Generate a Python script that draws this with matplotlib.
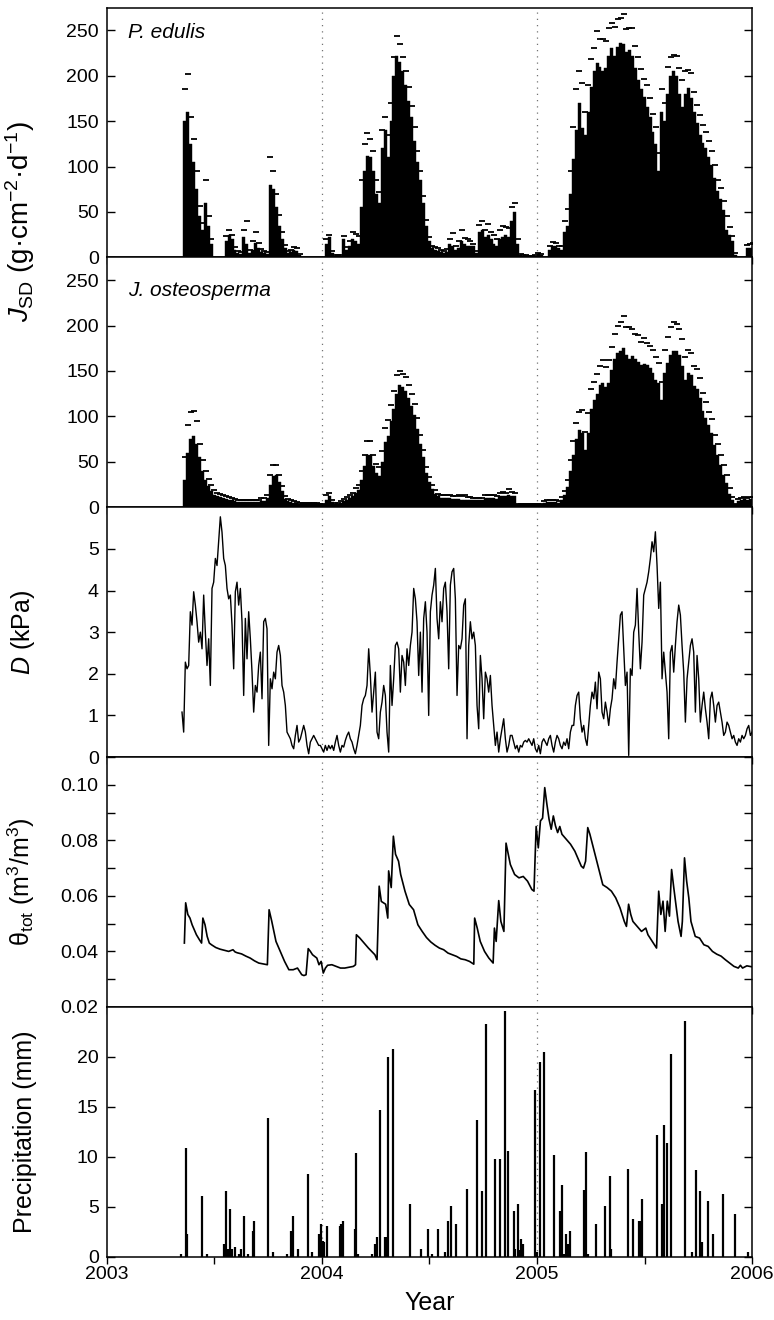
import numpy as np
import matplotlib
matplotlib.use('Agg')
import matplotlib.pyplot as plt
from matplotlib.ticker import MultipleLocator, FormatStrFormatter

plt.rcParams['font.family'] = ['Liberation Sans', 'DejaVu Sans']
plt.rcParams['mathtext.fontset'] = 'custom'
plt.rcParams['mathtext.rm'] = 'Liberation Sans'
plt.rcParams['mathtext.it'] = 'Liberation Sans:italic'
plt.rcParams['mathtext.bf'] = 'Liberation Sans:bold'

# sap flux, 5-day bins starting on day 130 of 2003
SAP_DAY0 = 130
SAP_STEP = 5

pe_flux = [150, 160, 125, 105, 75, 45, 30, 60, 35, 15,
           0, 0, 0, 0, 18, 25, 20, 8, 5, 4,
           22, 15, 5, 8, 16, 10, 6, 5, 4, 80,
           75, 55, 35, 20, 10, 5, 6, 8, 7, 3,
           0, 0, 0, 0, 0, 0, 0, 0, 15, 22,
           5, 2, 2, 2, 20, 8, 12, 20, 18, 15,
           55, 95, 112, 110, 95, 70, 60, 120, 140, 110,
           150, 200, 222, 215, 205, 190, 172, 155, 128, 105,
           85, 60, 35, 18, 10, 8, 7, 6, 5, 6,
           15, 12, 8, 10, 18, 15, 12,
           13, 12, 5, 28, 30, 22, 25, 20, 15, 12,
           20, 22, 25, 22, 40, 50, 15, 3, 2, 2,
           1, 1, 2, 4, 3, 0, 0, 8, 12, 12,
           10, 8, 28, 35, 70, 108, 140, 170, 142, 135,
           160, 188, 205, 214, 210, 205, 208, 222, 230, 222,
           232, 236, 235, 226, 228, 222, 208, 195, 185, 176,
           165, 155, 138, 125, 95, 160, 150, 180, 200, 205,
           200, 180, 165, 180, 186, 175, 160, 148, 135, 126,
           120, 110, 102, 87, 73, 64, 52, 30, 25, 18,
           3, 0, 0, 0, 10, 10, 12]

pe_err = [35, 42, 30, 25, 20, 12, 8, 25, 10, 5,
          0, 0, 0, 0, 6, 5, 5, 3, 2, 2,
          8, 25, 3, 10, 12, 6, 3, 2, 2, 30,
          20, 15, 12, 8, 4, 2, 2, 3, 3, 1,
          0, 0, 0, 0, 0, 0, 0, 0, 5, 3,
          2, 1, 1, 1, 3, 3, 6, 8, 8, 8,
          30, 30, 25, 20, 22, 15, 12, 20, 15, 25,
          20, 20, 22, 20, 15, 15, 15, 12, 15, 12,
          10, 8, 6, 4, 3, 3, 3, 2, 2, 3,
          5, 15, 4, 8, 12, 6, 8,
          5, 3, 2, 8, 10, 8, 12, 8, 10, 8,
          10, 12, 8, 10, 15, 10, 5, 1, 1, 1,
          1, 1, 1, 1, 1, 0, 0, 4, 5, 4,
          3, 5, 12, 18, 25, 35, 45, 35, 50, 25,
          30, 30, 25, 35, 30, 35, 30, 30, 28, 32,
          30, 28, 33, 25, 25, 30, 25, 25, 22, 20,
          25, 20, 20, 18, 20, 25, 20, 30, 20, 18,
          22, 28, 30, 25, 20, 28, 22, 20, 22, 20,
          18, 18, 15, 15, 12, 12, 10, 15, 8, 6,
          2, 0, 0, 0, 4, 5, 4]

jo_flux = [30, 60, 75, 78, 70, 55, 40, 30, 23, 18,
           14, 12, 11, 10, 9, 8, 8, 7, 6, 6,
           6, 6, 6, 6, 6, 6, 7, 7, 10, 25,
           34, 36, 28, 18, 9, 7, 6, 5, 5, 4,
           4, 4, 4, 4, 4, 4, 3, 3, 8, 12,
           6, 4, 4, 5, 7, 8, 10, 12, 16, 19,
           30, 45, 58, 58, 45, 38, 34, 50, 72, 78,
           95, 108, 125, 135, 132, 128, 120, 111, 102, 86,
           70, 55, 38, 28, 20, 15, 12, 10, 10, 10,
           10, 9, 9, 9, 8, 8, 8,
           8, 8, 8, 8, 8, 10, 10, 10, 10, 9,
           12, 12, 12, 14, 12, 12, 3, 3, 3, 3,
           3, 3, 3, 3, 3, 5, 6, 6, 6, 6,
           5, 8, 13, 22, 40, 58, 75, 85, 82, 63,
           82, 108, 118, 125, 135, 137, 132, 137, 151, 163,
           170, 172, 175, 168, 163, 166, 163, 160, 157, 158,
           156, 153, 148, 140, 137, 118, 148, 159, 168, 172,
           172, 168, 155, 140, 148, 145, 133, 130, 120, 106,
           98, 90, 82, 68, 58, 47, 36, 27, 15, 8,
           3, 7, 8, 9, 8, 9, 9]

jo_err = [25, 30, 30, 28, 25, 15, 12, 10, 8, 6,
          5, 4, 4, 3, 3, 3, 2, 2, 2, 2,
          2, 2, 2, 2, 2, 2, 3, 3, 4, 10,
          12, 10, 8, 5, 3, 2, 2, 2, 1, 1,
          1, 1, 1, 1, 1, 1, 1, 1, 6, 4,
          2, 1, 1, 2, 2, 3, 3, 4, 5, 6,
          10, 12, 15, 15, 12, 10, 10, 12, 15, 18,
          18, 20, 20, 15, 15, 15, 15, 14, 12, 12,
          10, 8, 6, 5, 5, 4, 3, 3, 3, 3,
          4, 3, 3, 4, 4, 5, 3,
          3, 2, 2, 2, 2, 3, 3, 4, 3, 3,
          4, 5, 4, 6, 5, 4, 1, 1, 1, 1,
          1, 1, 1, 1, 1, 2, 2, 2, 2, 2,
          2, 3, 5, 8, 12, 15, 18, 20, 25, 20,
          22, 22, 20, 22, 20, 25, 22, 25, 25, 28,
          30, 32, 35, 30, 35, 30, 28, 30, 25, 28,
          25, 25, 25, 25, 22, 20, 25, 28, 30, 32,
          30, 28, 30, 25, 25, 25, 22, 22, 22, 20,
          18, 15, 15, 12, 12, 10, 10, 8, 6, 3,
          1, 2, 2, 2, 2, 2, 2]

# vapour pressure deficit, kPa, sampled every 1/129 year from 2003.349
VPD_START = 2003.349
VPD_PER_YEAR = 129
vpd = [1.08, 0.6, 2.28, 2.12, 2.2, 3.49, 3.17, 3.97, 3.65, 3.25,
       2.76, 3.0, 2.6, 3.89, 3.0, 2.2, 2.84, 1.72, 4.05, 4.2,
       4.77, 4.6, 5.17, 5.77, 5.4, 4.77, 4.6, 4.05, 3.8, 3.89,
       3.17, 2.12, 3.97, 4.2, 3.65, 4.05, 3.25, 1.48, 3.33, 2.36,
       3.49, 2.84, 2.04, 1.08, 1.72, 1.56, 2.2, 2.52, 1.4, 3.25,
       3.33, 3.08, 0.28, 1.88, 1.64, 2.04, 1.88, 2.52, 2.68, 2.44,
       1.72, 1.56, 1.24, 0.6, 0.52, 0.44, 0.28, 0.2, 0.52, 0.76,
       0.36, 0.44, 0.6, 0.76, 0.6, 0.28, 0.08, 0.36, 0.44, 0.52,
       0.44, 0.36, 0.28, 0.28, 0.2, 0.12, 0.28, 0.16, 0.28, 0.2,
       0.28, 0.16, 0.36, 0.52, 0.28, 0.12, 0.28, 0.24, 0.4, 0.52,
       0.6, 0.44, 0.36, 0.2, 0.08, 0.28, 0.52, 0.76, 1.24, 1.4,
       1.48, 1.72, 2.6, 1.96, 1.08, 1.56, 2.04, 0.6, 0.44, 1.08,
       1.32, 1.72, 1.48, 0.6, 0.12, 2.2, 1.24, 1.88, 2.68, 2.76,
       2.6, 1.56, 2.44, 2.28, 1.72, 2.6, 2.2, 2.68, 3.0, 4.05,
       3.8, 3.25, 1.96, 3.0, 1.56, 3.33, 3.73, 3.0, 1.0, 3.49,
       3.89, 4.13, 4.53, 3.33, 2.84, 3.73, 3.25, 4.05, 4.2, 3.49,
       2.12, 4.13, 4.45, 4.53, 3.8, 1.48, 2.68,
       2.6, 2.84, 3.65, 3.8, 0.44, 2.68, 3.25, 2.84, 3.0, 2.68,
       1.24, 0.68, 2.44, 1.88, 0.92, 2.04, 1.88, 1.56, 1.96, 1.24,
       0.76, 0.28, 0.6, 0.12, 0.44, 0.68, 0.92, 0.44, 0.12, 0.28,
       0.52, 0.52, 0.36, 0.2, 0.28, 0.12, 0.28, 0.24, 0.36, 0.4,
       0.36, 0.44, 0.36, 0.28, 0.44, 0.2, 0.12, 0.28, 0.08, 0.36,
       0.44, 0.36, 0.28, 0.44, 0.52, 0.28, 0.12, 0.36, 0.52, 0.44,
       0.28, 0.2, 0.36, 0.28, 0.44, 0.2, 0.6, 0.76, 0.76, 1.24,
       1.48, 1.56, 0.92, 0.6, 0.76, 0.44, 0.28, 0.76, 1.24, 1.56,
       1.4, 1.8, 1.16, 2.04, 1.88, 1.08, 0.92, 1.32, 1.08, 0.76,
       1.16, 1.4, 1.88, 1.64, 2.28, 2.84, 3.41, 3.49, 2.6, 1.72,
       2.04, 0.04, 2.12, 1.96, 3.0, 3.17, 4.05, 3.0, 2.12, 2.76,
       3.89, 4.05, 4.2, 4.45, 4.77, 5.17, 4.93, 5.41, 4.6, 3.57,
       4.2, 1.88, 2.52, 2.04, 1.56, 0.44, 2.52, 2.68, 2.04, 2.68,
       3.25, 3.65, 3.41, 2.68, 2.04, 0.84, 1.88, 2.28, 2.68, 2.84,
       2.52, 1.08, 2.44, 1.88, 0.84, 1.24, 1.56, 1.16, 0.84, 0.44,
       1.4, 1.56, 1.24, 0.84, 1.24, 1.32, 1.08, 0.84, 0.52, 0.6,
       0.84, 0.76, 0.6, 0.44, 0.52, 0.36, 0.28, 0.44, 0.36, 0.52,
       0.44, 0.52, 0.68, 0.76, 0.52, 0.6]

# total soil water content
theta_year = [2003.360, 2003.366, 2003.376, 2003.386, 2003.396, 2003.406, 2003.416, 2003.430, 2003.440, 2003.446,
              2003.456, 2003.466, 2003.476, 2003.486, 2003.506, 2003.526, 2003.546, 2003.566, 2003.586, 2003.596,
              2003.606, 2003.626, 2003.646, 2003.666, 2003.686, 2003.706, 2003.726, 2003.746, 2003.754, 2003.766,
              2003.776, 2003.786, 2003.806, 2003.826, 2003.846, 2003.866, 2003.886, 2003.896, 2003.906, 2003.916,
              2003.926, 2003.936, 2003.946, 2003.956, 2003.966, 2003.976, 2003.986, 2003.996, 2004.006, 2004.016,
              2004.026, 2004.046, 2004.066, 2004.086, 2004.106, 2004.126, 2004.146, 2004.156, 2004.160, 2004.176,
              2004.196, 2004.216, 2004.246, 2004.256, 2004.266, 2004.276, 2004.296, 2004.306, 2004.310, 2004.322,
              2004.332, 2004.342, 2004.356, 2004.366, 2004.386, 2004.406, 2004.426, 2004.446, 2004.466, 2004.486,
              2004.506, 2004.526, 2004.546, 2004.566, 2004.586, 2004.606, 2004.626, 2004.646, 2004.666, 2004.686,
              2004.706, 2004.710, 2004.722, 2004.736, 2004.756, 2004.776, 2004.796, 2004.802, 2004.810, 2004.822,
              2004.832, 2004.846, 2004.856, 2004.876, 2004.896, 2004.916, 2004.936, 2004.956, 2004.976, 2004.986,
              2004.996, 2005.006, 2005.016, 2005.026, 2005.036, 2005.046, 2005.056, 2005.066, 2005.076, 2005.086,
              2005.096, 2005.106, 2005.116, 2005.136, 2005.156, 2005.176, 2005.196, 2005.206, 2005.216, 2005.226,
              2005.236, 2005.246, 2005.266, 2005.286, 2005.306, 2005.326, 2005.346, 2005.366, 2005.386, 2005.406,
              2005.416, 2005.426, 2005.436, 2005.446, 2005.466, 2005.486, 2005.506, 2005.516, 2005.536, 2005.556,
              2005.566, 2005.576, 2005.586, 2005.596, 2005.606, 2005.616, 2005.626, 2005.636, 2005.646, 2005.656,
              2005.670, 2005.676, 2005.686, 2005.696, 2005.706, 2005.716, 2005.736, 2005.756, 2005.776, 2005.796,
              2005.816, 2005.836, 2005.856, 2005.876, 2005.896, 2005.916, 2005.936, 2005.946, 2005.956, 2005.976,
              2005.996]
theta = [0.043, 0.0575, 0.0533, 0.052, 0.0496, 0.0478, 0.046, 0.0442, 0.043, 0.052,
         0.0496, 0.0454, 0.043, 0.0424, 0.0414, 0.0408, 0.0404, 0.040, 0.0406, 0.0398,
         0.0395, 0.0391, 0.0383, 0.0376, 0.0366, 0.0358, 0.0355, 0.0352, 0.055, 0.051,
         0.0472, 0.0436, 0.040, 0.0364, 0.0334, 0.0334, 0.034, 0.0328, 0.0316, 0.0313,
         0.0316, 0.041, 0.040, 0.0388, 0.0382, 0.0376, 0.0352, 0.0364, 0.0322, 0.034,
         0.035, 0.0352, 0.0346, 0.034, 0.034, 0.0343, 0.0346, 0.0352, 0.046, 0.0448,
         0.043, 0.0412, 0.0388, 0.037, 0.0635, 0.058, 0.057, 0.052, 0.069, 0.063,
         0.0815, 0.075, 0.0725, 0.0677, 0.0617, 0.0569, 0.055, 0.0496, 0.0472, 0.045,
         0.0434, 0.0422, 0.0412, 0.0406, 0.0394, 0.0388, 0.0382, 0.0373, 0.037, 0.0364,
         0.0354, 0.052, 0.0484, 0.0436, 0.040, 0.0376, 0.0358, 0.0484, 0.0436, 0.0583,
         0.0508, 0.0472, 0.079, 0.0713, 0.0677, 0.0665, 0.067, 0.0653, 0.0623, 0.0617,
         0.085, 0.0773, 0.087, 0.088, 0.099, 0.093, 0.0876, 0.084, 0.0888, 0.0852,
         0.0828, 0.085, 0.0822, 0.0804, 0.0786, 0.0761, 0.0725, 0.0707, 0.070, 0.0725,
         0.0846, 0.0822, 0.0761, 0.0701, 0.064, 0.063, 0.0617, 0.0593, 0.0557, 0.0508,
         0.049, 0.057, 0.0533, 0.0508, 0.049, 0.0472, 0.0484, 0.046, 0.0436, 0.0412,
         0.0617, 0.0533, 0.0581, 0.0472, 0.0581, 0.0527, 0.0695, 0.063, 0.057, 0.0508,
         0.0454, 0.0508, 0.0737, 0.0653, 0.0593, 0.0508, 0.0454, 0.0448, 0.0424, 0.0418,
         0.040, 0.039, 0.0383, 0.037, 0.0358, 0.0346, 0.034, 0.035, 0.034, 0.0348,
         0.0345]

# rain events
rain_year = [2003.346, 2003.368, 2003.374, 2003.442, 2003.466, 2003.542, 2003.552, 2003.562, 2003.572, 2003.580,
             2003.596, 2003.614, 2003.622, 2003.638, 2003.658, 2003.678, 2003.686, 2003.750, 2003.770, 2003.838,
             2003.856, 2003.864, 2003.888, 2003.936, 2003.954, 2003.986, 2003.994, 2004.006, 2004.011, 2004.022,
             2004.082, 2004.090, 2004.098, 2004.152, 2004.160, 2004.166, 2004.232, 2004.248, 2004.256, 2004.268,
             2004.292, 2004.297, 2004.308, 2004.328, 2004.408, 2004.460, 2004.492, 2004.510, 2004.538, 2004.570,
             2004.588, 2004.598, 2004.624, 2004.674, 2004.720, 2004.742, 2004.762, 2004.804, 2004.826, 2004.852,
             2004.866, 2004.892, 2004.900, 2004.912, 2004.920, 2004.926, 2004.936, 2004.992, 2004.998, 2005.016,
             2005.034, 2005.078, 2005.106, 2005.116, 2005.124, 2005.134, 2005.143, 2005.154, 2005.218, 2005.230,
             2005.236, 2005.276, 2005.316, 2005.338, 2005.346, 2005.422, 2005.448, 2005.476, 2005.482, 2005.490,
             2005.560, 2005.582, 2005.592, 2005.606, 2005.622, 2005.686, 2005.720, 2005.738, 2005.756, 2005.766,
             2005.796, 2005.820, 2005.866, 2005.920, 2005.980]
rain_mm = [0.3, 10.9, 2.3, 6.1, 0.3, 1.3, 6.6, 0.8, 4.8, 0.8,
           1.0, 0.3, 0.8, 4.1, 0.3, 2.6, 3.6, 13.9, 0.5, 0.3,
           2.6, 4.1, 0.8, 8.3, 0.5, 2.3, 3.3, 1.6, 1.5, 3.1,
           3.1, 3.3, 3.6, 2.8, 10.4, 0.3, 0.3, 1.3, 2.0, 14.7,
           2.0, 2.0, 20.0, 20.8, 5.3, 0.8, 2.8, 0.3, 2.8, 0.5,
           3.6, 5.1, 3.3, 6.8, 13.7, 6.6, 23.3, 9.8, 9.8, 24.6,
           10.6, 4.6, 0.8, 5.3, 0.7, 1.8, 1.3, 16.7, 0.5, 19.5,
           20.5, 10.2, 4.6, 7.2, 0.3, 2.3, 1.3, 2.6, 6.7, 10.5,
           0.3, 3.3, 5.1, 8.1, 0.8, 8.8, 3.8, 3.6, 3.6, 5.8,
           12.2, 5.3, 13.2, 11.4, 20.3, 23.6, 0.5, 8.7, 6.6, 1.5,
           5.6, 2.3, 6.3, 4.3, 0.5]

YEARS = [2003, 2004, 2005, 2006]


def style_axis(ax, xticks, xlabels=None):
    ax.set_xlim(2003, 2006)
    for yr in (2004, 2005):
        ax.axvline(yr, color='0.45', linestyle=(0, (1, 4)), linewidth=0.9, zorder=0)
    ax.set_xticks(xticks)
    if xlabels is None:
        ax.set_xticklabels([])
    else:
        ax.set_xticklabels(xlabels)
    ax.tick_params(axis='x', direction='out', length=5, width=1, top=False,
                   labelsize=14, pad=1.5)
    ax.tick_params(axis='y', which='both', direction='in', left=True, right=True,
                   length=6, width=1, labelsize=14, pad=6)
    for sp in ax.spines.values():
        sp.set_linewidth(1.1)


def sap_panel(ax, vals, err, name, name_y):
    vals = np.array(vals, dtype=float)
    err = np.array(err, dtype=float)
    w = SAP_STEP / 365.25
    x = 2003 + (SAP_DAY0 + SAP_STEP * np.arange(len(vals))) / 365.25
    ax.bar(x, vals, width=w, align='edge', color='black', edgecolor='black', linewidth=0.3)
    m = err > 0
    ax.plot(x[m] + w / 2, (vals + err)[m], linestyle='none', marker='_',
            markersize=5, markeredgewidth=1.3, color='black')
    ax.set_ylim(0, 275)
    ax.set_yticks(range(0, 251, 50))
    ax.text(0.033, name_y, name, transform=ax.transAxes, style='italic',
            fontsize=15, va='top', ha='left')


fig, axes = plt.subplots(5, 1, figsize=(7.74, 13.2), dpi=100)
fig.subplots_adjust(left=0.1382, right=0.9716, top=0.9943, bottom=0.0479, hspace=0)

quarters = np.arange(2003, 2006.01, 0.25)
halves = np.arange(2003, 2006.01, 0.5)

sap_panel(axes[0], pe_flux, pe_err, 'P. edulis', 0.94)
sap_panel(axes[1], jo_flux, jo_err, 'J. osteosperma', 0.905)
style_axis(axes[0], quarters)
style_axis(axes[1], quarters)
axes[0].set_ylabel(r'$J_\mathrm{SD}$ (g·cm$^{-2}$·d$^{-1}$)', fontsize=20)
axes[0].yaxis.set_label_coords(-0.108, 0.144)

# D panel
ax = axes[2]
vx = VPD_START + np.arange(len(vpd)) / VPD_PER_YEAR
ax.plot(vx, vpd, color='black', linewidth=1.0)
ax.set_ylim(0, 6)
ax.set_yticks(range(0, 6))
style_axis(ax, halves)
ax.set_ylabel(r'$D$ (kPa)', fontsize=18)
ax.yaxis.set_label_coords(-0.108, 0.5)

# theta panel
ax = axes[3]
ax.plot(theta_year, theta, color='black', linewidth=1.2)
ax.set_ylim(0.02, 0.11)
ax.yaxis.set_major_locator(MultipleLocator(0.02))
ax.yaxis.set_minor_locator(MultipleLocator(0.01))
ax.yaxis.set_major_formatter(FormatStrFormatter('%.2f'))
ax.set_yticks([0.02, 0.04, 0.06, 0.08, 0.10])
style_axis(ax, halves)
ax.set_ylabel(r'θ$_\mathrm{tot}$ (m$^3$/m$^3$)', fontsize=18)
ax.yaxis.set_label_coords(-0.108, 0.5)

# precipitation panel
ax = axes[4]
ax.vlines(rain_year, 0, rain_mm, colors='black', linewidth=1.6)
ax.set_ylim(0, 25)
ax.set_yticks(range(0, 21, 5))
half_labels = [str(int(h)) if h in YEARS else '' for h in halves]
style_axis(ax, halves, half_labels)
ax.set_ylabel('Precipitation (mm)', fontsize=18)
ax.yaxis.set_label_coords(-0.108, 0.5)
ax.set_xlabel('Year', fontsize=18)
ax.xaxis.set_label_coords(0.5, -0.135)

fig.savefig('out.png', dpi=100)
